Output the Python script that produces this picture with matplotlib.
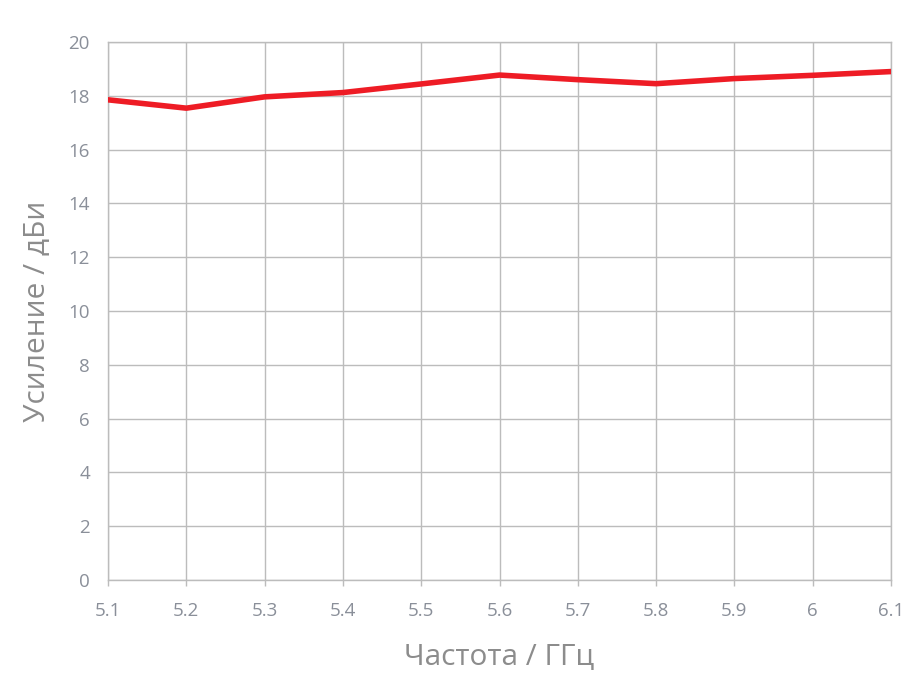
import matplotlib.pyplot as plt

freq = [5.1, 5.2, 5.3, 5.4, 5.5, 5.6, 5.7, 5.8, 5.9, 6.0, 6.1]
gain = [17.85, 17.54, 17.96, 18.12, 18.44, 18.77, 18.6, 18.45, 18.64, 18.76, 18.9]
xticks = [5.1, 5.2, 5.3, 5.4, 5.5, 5.6, 5.7, 5.8, 5.9, 6.0, 6.1]
xticklabels = ['5.1', '5.2', '5.3', '5.4', '5.5', '5.6', '5.7', '5.8', '5.9', '6', '6.1']
yticks = list(range(0, 21, 2))

plt.rcParams['font.family'] = ['Open Sans', 'DejaVu Sans']

fig = plt.figure(figsize=(9.21, 6.87), dpi=100)
ax = fig.add_axes([0.1173, 0.1557, 0.8501, 0.7832])

ax.plot(freq, gain, color='#ee1c25', linewidth=4, solid_capstyle='round', zorder=3)

ax.set_xlim(5.1, 6.1)
ax.set_ylim(0, 20)
ax.set_xticks(xticks)
ax.set_xticklabels(xticklabels)
ax.set_yticks(yticks)

ax.grid(True, color='#bcbcbc', linewidth=1.0)
for s in ax.spines.values():
    s.set_color('#bcbcbc')
    s.set_linewidth(1.0)

ax.tick_params(axis='x', length=4, width=1, color='#bcbcbc', pad=12,
               labelsize=13.5, labelcolor='#8a8f99')
ax.tick_params(axis='y', length=0, pad=13, labelsize=13.5, labelcolor='#8a8f99')

ax.set_xlabel('Частота / ГГц', fontsize=21.5, color='#8c8c8c', labelpad=16)
ax.set_ylabel('Усиление / дБи', fontsize=21.5, color='#8c8c8c', labelpad=12)

fig.savefig('out.png', dpi=100)
